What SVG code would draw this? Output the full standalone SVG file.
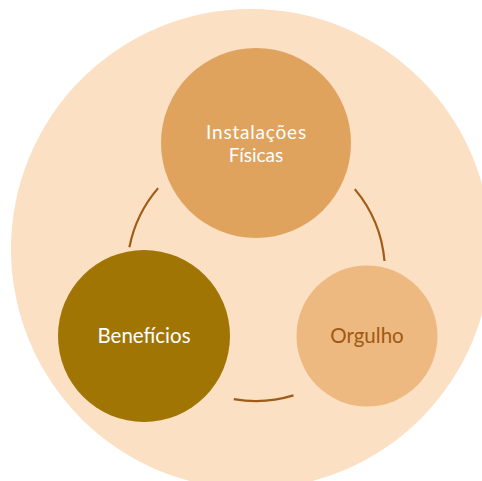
<svg xmlns="http://www.w3.org/2000/svg" width="482" height="481" viewBox="0 0 482 481">
  <style>
    .lbl { font-family: Lato, "Open Sans", sans-serif; font-size: 20.5px; text-anchor: middle; }
    .sm { font-size: 19px; }
    .arc { fill: none; stroke: #A05C16; stroke-width: 2.2; stroke-linecap: butt; }
  </style>
  <circle id="background" cx="251" cy="249" r="240" fill="#FBE0C3"/>
  <g id="connectors">
    <path class="arc" d="M129.4,247.2 A129,129 0 0 1 158.1,188.1"/>
    <path class="arc" d="M354.8,189.1 A129,129 0 0 1 384.5,261.0"/>
    <path class="arc" d="M293.5,395.4 A129,129 0 0 1 233.8,399.1"/>
  </g>
  <g id="node-instalacoes">
    <circle cx="256" cy="143" r="95" fill="#DFA35D"/>
    <text class="lbl sm" x="256.5" y="138.5" fill="#FFFFFF" letter-spacing="0.8">Instalações</text>
    <text class="lbl sm" x="256" y="161.5" fill="#FFFFFF">Físicas</text>
  </g>
  <g id="node-beneficios">
    <circle cx="144" cy="336" r="86" fill="#A17504"/>
    <text class="lbl" x="144" y="343" fill="#FFFFFF">Benefícios</text>
  </g>
  <g id="node-orgulho">
    <circle cx="367" cy="336" r="70.5" fill="#EEB881"/>
    <text class="lbl" x="367" y="343" fill="#A05A12">Orgulho</text>
  </g>
</svg>
